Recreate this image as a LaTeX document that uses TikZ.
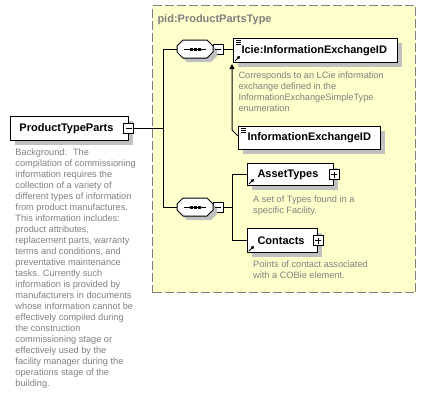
\documentclass[tikz,border=0pt]{standalone}
\usepackage{fontspec}
\setmainfont{Liberation Sans}
\usetikzlibrary{arrows.meta,shadows}
\definecolor{bgyellow}{RGB}{255,255,204}
\definecolor{shadowgray}{RGB}{192,192,192}
\definecolor{textgray}{RGB}{128,128,128}
\definecolor{dashgray}{RGB}{128,128,128}
\begin{document}
\begin{tikzpicture}[x=1pt,y=-1pt,line width=1pt,
  shad/.style={drop shadow={shadow xshift=4pt,shadow yshift=-4pt,fill=shadowgray,opacity=1}},
  elem/.style={draw=black,fill=white,anchor=north west,inner ysep=0pt,align=left,
    font=\fontsize{11}{13}\selectfont\bfseries,shad},
  seqbox/.style={minimum width=36pt,minimum height=18pt,inner sep=0pt},
  pm/.style={draw=black,fill=white,minimum size=10pt,inner sep=0pt},
  note/.style={anchor=north west,inner sep=0pt,align=left,text=textgray,
    font=\fontsize{9.2}{11}\selectfont},
  icon/.style={line width=0.8pt},
  reftip/.style={icon,-{Triangle[length=3pt,width=3.5pt]}}
]
\fill[white] (0,0) rectangle (425,405);
\useasboundingbox (0,0) rectangle (425,405);

% group box
\node (grp) [draw=dashgray,dash pattern=on 9pt off 3pt,fill=bgyellow,anchor=north west,
  minimum width=263pt,minimum height=287pt,inner sep=0pt] at (152,5) {};
\node (title) [anchor=base west,inner sep=0pt,text=textgray,font=\fontsize{11}{13}\selectfont\bfseries]
  at (157,22) {pid:ProductPartsType};

% root element
\node (root) [elem,minimum width=118pt,minimum height=24pt,inner xsep=9pt,text width=100pt]
  at (10,116) {ProductTypeParts};
\node (m0) [pm] at (128.5,128) {};
\draw ([xshift=-3pt]m0.center) -- ([xshift=3pt]m0.center);

\node (desc) [note] at (15,148.3) {Background:~ The\\compilation of commissioning\\information requires the\\collection of a variety of\\different types of information\\from product manufactures.\\This information includes:\\product attributes,\\replacement parts, warranty\\terms and conditions, and\\preventative maintenance\\tasks. Currently such\\information is provided by\\manufacturers in documents\\whose information cannot be\\effectively compiled during\\the construction\\commissioning stage or\\effectively used by the\\facility manager during the\\operations stage of the\\building.};

% sequences
\node (s1) [seqbox] at (195,49) {};
\node (m1) [pm] at (218,49.5) {};
\node (s2) [seqbox] at (195,207) {};
\node (m2) [pm] at (218,207) {};
\foreach \s/\m in {s1/m1,s2/m2}{
  \begin{scope}[shift={(\s.center)}]
    \fill[shadowgray] (-14,1) -- (-8,-5) -- (16,-5) -- (22,1) -- (22,7) -- (16,13) -- (-8,13) -- (-14,7) -- cycle;
    \filldraw[fill=white,draw=black] (-18,-3) -- (-12,-9) -- (12,-9) -- (18,-3) -- (18,3) -- (12,9) -- (-12,9) -- (-18,3) -- cycle;
    \draw (-11,0) -- (11,0);
    \foreach \dx in {-4,0,4}
      \fill (\dx-1.5,-1.5) rectangle (\dx+1.5,1.5);
  \end{scope}
  \draw ([xshift=-3pt]\m.center) -- ([xshift=3pt]\m.center);
}

% elements
\node (icie) [elem,minimum width=164pt,minimum height=24pt,inner xsep=8pt,text width=148pt]
  at (233,38) {Icie:InformationExchangeID};
\node (iexid) [elem,minimum width=142pt,minimum height=23pt,inner xsep=9pt,text width=124pt]
  at (238,126) {InformationExchangeID};
\node (asset) [elem,minimum width=86pt,minimum height=22pt,inner xsep=10pt,text width=66pt]
  at (247,163) {AssetTypes};
\node (contacts) [elem,minimum width=70pt,minimum height=24pt,inner xsep=10pt,text width=50pt]
  at (247,228) {Contacts};

\node (pa) [pm] at (asset.east) {};
\draw ([xshift=-3pt]pa.center) -- ([xshift=3pt]pa.center) ([yshift=-3pt]pa.center) -- ([yshift=3pt]pa.center);
\node (pc) [pm] at (contacts.east) {};
\draw ([xshift=-3pt]pc.center) -- ([xshift=3pt]pc.center) ([yshift=-3pt]pc.center) -- ([yshift=3pt]pc.center);

% icons: type lines
\foreach \n in {icie,iexid}{
  \foreach \dy in {2,4,6}
    \draw[icon] ([xshift=3pt,yshift=-\dy pt]\n.north west) -- ++(5,0);
}
% icons: reference arrows
\foreach \n in {icie,asset,contacts}
  \draw[reftip] ([xshift=2pt,yshift=2pt]\n.south west) -- ++(5,-5);

% notes
\node (n1) [note] at (238,71.3) {Corresponds to an LCie information\\exchange defined in the\\InformationExchangeSimpleType\\enumeration};
\node (n2) [note] at (252.7,195.6) {A set of Types found in a\\specific Facility.};
\node (n3) [note] at (252.7,260.6) {Points of contact associated\\with a COBie element.};

% connectors
\coordinate (t0) at (163,128);
\coordinate (t1) at (163,49.5);
\coordinate (t2) at (163,207);
\coordinate (b1) at (232,207);
\draw (m0.east) -- (t0);
\draw (s1.west |- t1) -- (t1) -- (t2) -- (s2.west);
\draw (m1.east) -- (icie.west |- m1.east);
\draw (m2.east) -- (b1);
\draw (asset.west) -- (asset.west -| b1) -- (contacts.west -| b1) -- (contacts.west);
\draw[-{Triangle[length=5pt,width=5pt]}] ([yshift=-10pt]iexid.north west) -- ++(-6,-6)
  -- ([xshift=-1pt,yshift=-1pt]icie.south west);
\end{tikzpicture}
\end{document}
